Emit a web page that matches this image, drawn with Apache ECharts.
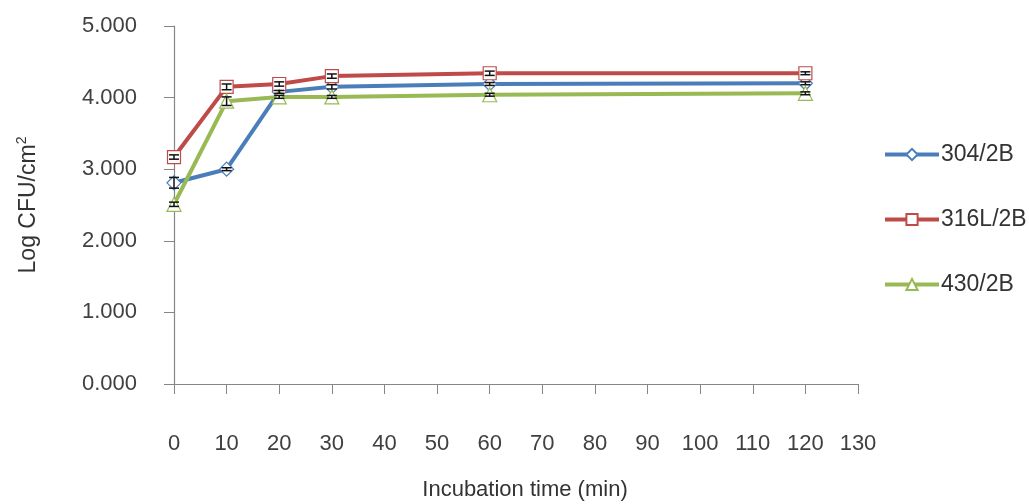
<!DOCTYPE html>
<html><head><meta charset="utf-8">
<script src="https://cdn.jsdelivr.net/npm/echarts@6/dist/echarts.min.js"></script>
<style>html,body{margin:0;padding:0;background:#fff}#c{width:1029px;height:504px}</style>
</head><body><div id="c"></div>
<script>
const times = [0, 10, 20, 30, 60, 120];
const s304 = [2.81, 3.00, 4.08, 4.15, 4.19, 4.20];
const s316 = [3.17, 4.15, 4.19, 4.30, 4.34, 4.34];
const s430 = [2.51, 3.95, 4.01, 4.01, 4.04, 4.06];
const e304 = [0.075, 0.02, 0.02, 0.03, 0.02, 0.02];
const e316 = [0.03, 0.04, 0.03, 0.03, 0.03, 0.02];
const e430 = [0.03, 0.06, 0.02, 0.02, 0.02, 0.02];
const names = ['304/2B', '316L/2B', '430/2B'];
const colors = ['#4a7ebb', '#be4b48', '#98b954'];
const symbols = ['diamond', 'rect', 'triangle'];

const font = 'Liberation Sans, Arial, sans-serif';
const chart = echarts.init(document.getElementById('c'));
const vals = [s304, s316, s430];
const errs = [e304, e316, e430];

function pairs(v) { return times.map((t, i) => [t, v[i]]); }

const series = [];
vals.forEach((v, k) => {
  series.push({
    name: names[k], type: 'line', data: pairs(v),
    symbol: symbols[k], symbolSize: k === 1 ? 13 : 14, showSymbol: true,
    lineStyle: { color: colors[k], width: 4 },
    itemStyle: { color: '#fff', borderColor: colors[k], borderWidth: 1.2 },
    emphasis: { disabled: true }, z: 2 + k
  });
});
vals.forEach((v, k) => {
  series.push({
    type: 'custom', name: names[k] + ' err',
    data: times.map((t, i) => [t, v[i] - errs[k][i], v[i] + errs[k][i]]),
    renderItem: function (params, api) {
      const x = api.value(0);
      const lo = api.coord([x, api.value(1)]);
      const hi = api.coord([x, api.value(2)]);
      const hw = 5;
      return { type: 'group', children: [
        { type: 'line', shape: { x1: lo[0], y1: lo[1], x2: hi[0], y2: hi[1] }, style: { stroke: '#111', lineWidth: 1.5 } },
        { type: 'line', shape: { x1: lo[0] - hw, y1: lo[1], x2: lo[0] + hw, y2: lo[1] }, style: { stroke: '#111', lineWidth: 1.5 } },
        { type: 'line', shape: { x1: hi[0] - hw, y1: hi[1], x2: hi[0] + hw, y2: hi[1] }, style: { stroke: '#111', lineWidth: 1.5 } }
      ]};
    },
    z: 10, silent: true
  });
});

chart.setOption({
  animation: false,
  backgroundColor: '#fff',
  grid: { left: 174, top: 26, width: 684, height: 358, containLabel: false, outerBoundsMode: 'none' },
  xAxis: {
    type: 'value', min: 0, max: 130, interval: 10,
    axisLine: { show: true, onZero: false, lineStyle: { color: '#868686', width: 1.2 } },
    axisTick: { show: true, length: 10, lineStyle: { color: '#868686' } },
    axisLabel: { color: '#404040', fontSize: 22, fontFamily: font, margin: 49 },
    splitLine: { show: false },
    name: 'Incubation time (min)', nameLocation: 'middle', nameGap: 95,
    nameTextStyle: { color: '#333', fontSize: 22, fontFamily: font, padding: [0, 0, 0, 18] }
  },
  yAxis: {
    type: 'value', min: 0, max: 5, interval: 1,
    axisLine: { show: true, lineStyle: { color: '#868686', width: 1.2 } },
    axisTick: { show: true, length: 10, lineStyle: { color: '#868686' } },
    axisLabel: { color: '#404040', fontSize: 22, fontFamily: font, margin: 37, formatter: v => v.toFixed(3) },
    splitLine: { show: false },
    name: 'Log CFU/cm{s|2}', nameLocation: 'middle', nameGap: 131, nameRotate: 90,
    nameTextStyle: { color: '#333', fontSize: 23, fontFamily: font, rich: { s: { fontSize: 14, verticalAlign: 'top', padding: [0, 0, 14, 0], fontFamily: font, color: '#333' } } }
  },
  legend: {
    orient: 'vertical', left: 878, top: 138, itemGap: 42,
    itemWidth: 54, itemHeight: 14,
    data: names,
    lineStyle: { width: 4 },
    textStyle: { color: '#333', fontSize: 23, fontFamily: font, padding: [0, 0, 0, -3] }
  },
  series: series
});
</script></body></html>
